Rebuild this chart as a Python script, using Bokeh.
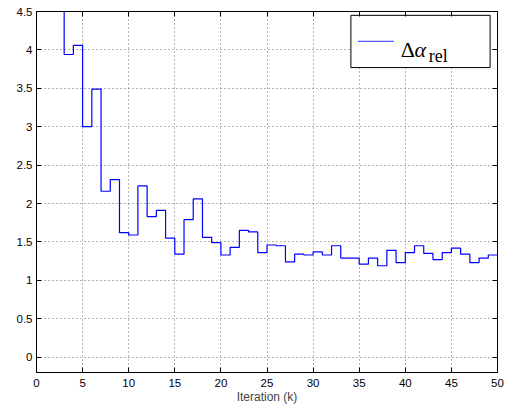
from bokeh.plotting import figure
from bokeh.models import Range1d, LinearAxis, FixedTicker
from bokeh.core.properties import value
from bokeh.embed import file_html
from bokeh.resources import INLINE

# Data
iterations = list(range(1, 51))
delta_alpha_rel = [9.0, 6.0, 3.94, 4.06, 3.00, 3.49, 2.16, 2.31, 1.62, 1.59,
                   2.23, 1.83, 1.91, 1.55, 1.34, 1.79, 2.06, 1.56, 1.49, 1.33,
                   1.43, 1.65, 1.63, 1.36, 1.46, 1.45, 1.24, 1.34, 1.33, 1.37,
                   1.33, 1.45, 1.29, 1.29, 1.21, 1.29, 1.19, 1.39, 1.23, 1.36,
                   1.45, 1.35, 1.27, 1.36, 1.42, 1.34, 1.23, 1.29, 1.33, 1.33]
x_ticks = [0, 5, 10, 15, 20, 25, 30, 35, 40, 45, 50]
y_ticks = [0, 0.5, 1, 1.5, 2, 2.5, 3, 3.5, 4, 4.5]
x_label = "Iteration (k)"

FONT = "Liberation Sans"

p = figure(width=508, height=406, output_backend="svg", toolbar_location=None,
           x_range=Range1d(0, 50), y_range=Range1d(-0.2, 4.5),
           min_border_left=36, min_border_right=11, min_border_top=11, min_border_bottom=33)

p.outline_line_color = "black"
p.outline_line_width = 1
p.background_fill_color = "white"

# axes styling
for ax in (p.xaxis[0], p.yaxis[0]):
    ax.major_tick_in = 5
    ax.major_tick_out = 0
    ax.minor_tick_line_color = None
    ax.axis_line_color = "black"
    ax.major_tick_line_color = "black"
    ax.major_label_text_font = FONT
    ax.major_label_text_font_size = "11.5px"
    ax.major_label_text_color = "black"
    ax.major_label_standoff = 4

p.xaxis[0].ticker = FixedTicker(ticks=x_ticks)
p.yaxis[0].ticker = FixedTicker(ticks=y_ticks)
p.yaxis[0].major_label_overrides = {0: "0", 1: "1", 2: "2", 3: "3", 4: "4"}
p.xaxis[0].axis_label = x_label
p.xaxis[0].axis_label_text_font = FONT
p.xaxis[0].axis_label_text_font_size = "12px"
p.xaxis[0].axis_label_text_font_style = "normal"
p.xaxis[0].axis_label_standoff = 0
p.xaxis[0].major_label_standoff = 6

top_ax = LinearAxis(ticker=FixedTicker(ticks=x_ticks))
right_ax = LinearAxis(ticker=FixedTicker(ticks=y_ticks))
top_ax.major_label_overrides = {t: "" for t in x_ticks}
right_ax.major_label_overrides = {t: "" for t in y_ticks}
for ax in (top_ax, right_ax):
    ax.major_tick_in = 5
    ax.major_tick_out = 0
    ax.minor_tick_line_color = None
    ax.major_label_standoff = 0
    ax.axis_line_color = "black"
    ax.major_tick_line_color = "black"
p.add_layout(top_ax, "above")
p.add_layout(right_ax, "right")

p.xgrid.ticker = FixedTicker(ticks=x_ticks)
p.ygrid.ticker = FixedTicker(ticks=y_ticks)
for g in (p.xgrid[0], p.ygrid[0]):
    g.grid_line_color = "#666666"
    g.grid_line_dash = "1 3"
    g.grid_line_width = 1

p.step(iterations, delta_alpha_rel, mode="after", line_color="#0000ff", line_width=1.2)

# manual legend (drawn as glyphs so text sits on top of the box)
p.quad(left=[34.1], right=[49.2], bottom=[3.77], top=[4.45],
       fill_color="white", line_color="black", line_width=1)
p.line([34.85, 38.76], [4.11, 4.11], line_color="#5555ff", line_width=1.2)
p.text(x=[39.5], y=[4.0], text=["Δ"], text_font=value("Liberation Serif"),
       text_font_size="22px", text_baseline="alphabetic", text_color="black")
p.text(x=[41.0], y=[4.0], text=["α"], text_font=value("Liberation Serif"),
       text_font_style="italic", text_font_size="22px", text_baseline="alphabetic", text_color="black")
p.text(x=[42.55], y=[3.92], text=["rel"], text_font=value("Liberation Serif"),
       text_font_size="18px", text_baseline="alphabetic", text_color="black")

open("out.html", "w").write(file_html(p, INLINE))
